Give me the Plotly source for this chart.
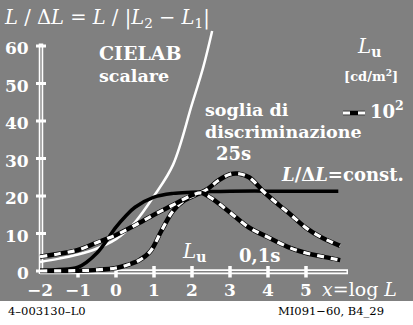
import plotly.graph_objects as go

W, H = 413, 325

# ---------------- data ----------------
cielab_x = [-2, -1.5, -1, -0.5, 0, 0.25, 0.5, 1, 1.5, 2, 2.3, 2.53]
cielab_y = [2.4, 3.3, 4.4, 6.0, 8.5, 10.5, 13.0, 20.0, 28.3, 44.5, 54.5, 64.0]

const_x = [-2, -1.5, -1, -0.5, 0, 0.25, 0.5, 1, 1.5, 2, 2.5, 3, 4, 5, 5.85]
const_y = [0.2, 0.4, 1.0, 4.8, 11.7, 14.6, 17.0, 19.7, 20.7, 21.0, 21.2, 21.3, 21.3, 21.3, 21.3]

s25_x = [-2, -1, -0.5, 0, 0.3, 0.6, 0.9, 1.2, 1.5, 1.8, 2.1, 2.4, 2.7, 3.0, 3.2, 3.5, 3.9, 4.3, 4.6, 5.0, 5.4, 5.9]
s25_y = [0.0, 0.1, 0.3, 0.8, 1.6, 2.8, 5.2, 10.8, 16.0, 18.8, 20.3, 21.8, 24.2, 25.8, 26.0, 25.0, 21.0, 17.5, 15.0, 11.5, 9.0, 6.7]

s01_x = [-2, -1.5, -1, -0.5, 0, 0.5, 1, 1.5, 2, 2.25, 2.5, 3, 3.5, 4, 4.6, 5, 5.5, 5.9]
s01_y = [3.8, 4.6, 5.6, 7.6, 9.6, 12.2, 15.0, 17.6, 20.2, 20.8, 19.5, 15.6, 11.6, 9.0, 6.1, 4.8, 3.7, 2.9]

x_ticks = [-2, -1, 0, 1, 2, 3, 4, 5]
x_tick_labels = ["−2", "−1", "0", "1", "2", "3", "4", "5"]
y_ticks = [0, 10, 20, 30, 40, 50, 60]
y_tick_labels = ["0", "10", "20", "30", "40", "50", "60"]

# ---------------- pixel <-> data geometry ----------------
X0PX, XSCALE = 40.0, 38.0      # px of x=-2, px per unit
Y0PX, YSCALE = 271.0, 3.75     # px of y=0, px per unit
PLOT_BOTTOM_PX = 301.0


def dx(px):
    return (px - X0PX) / XSCALE - 2


def dy(py):
    return (Y0PX - py) / YSCALE


def pp(px, py):
    return px / W, 1 - py / H


GRAY = "#808080"
FONT = "DejaVu Serif"

fig = go.Figure()

fig.add_trace(go.Scatter(x=cielab_x, y=cielab_y, mode="lines",
                         line=dict(color="white", width=2.5, shape="spline"),
                         hoverinfo="skip"))
fig.add_trace(go.Scatter(x=const_x, y=const_y, mode="lines",
                         line=dict(color="black", width=3.5, shape="spline"),
                         hoverinfo="skip"))
for xs, ys in [(s25_x, s25_y), (s01_x, s01_y)]:
    fig.add_trace(go.Scatter(x=xs, y=ys, mode="lines",
                             line=dict(color="black", width=4.5, shape="spline"),
                             hoverinfo="skip"))
    fig.add_trace(go.Scatter(x=xs, y=ys, mode="lines",
                             line=dict(color="white", width=3.2, shape="spline", dash="7px,7px"),
                             hoverinfo="skip"))

shapes = []
xa_y = dy(271.7)
shapes.append(dict(type="line", xref="x", yref="y", x0=-2, x1=dx(348), y0=xa_y, y1=xa_y,
                   line=dict(color="white", width=5), layer="below"))
shapes.append(dict(type="line", xref="x", yref="y", x0=dx(43), x1=dx(346.5), y0=xa_y, y1=xa_y,
                   line=dict(color=GRAY, width=1.4), layer="below"))
ya_x = dx(41)
shapes.append(dict(type="line", xref="x", yref="y", x0=ya_x, x1=ya_x, y0=dy(274), y1=dy(43.5),
                   line=dict(color="white", width=4.5), layer="below"))
shapes.append(dict(type="line", xref="x", yref="y", x0=ya_x, x1=ya_x, y0=dy(272), y1=dy(45),
                   line=dict(color=GRAY, width=1.3), layer="below"))
for t in x_ticks[1:]:
    shapes.append(dict(type="line", xref="x", yref="y", x0=t, x1=t, y0=dy(266), y1=dy(277.5),
                       line=dict(color="white", width=3.5), layer="below"))
for t in y_ticks:
    shapes.append(dict(type="line", xref="x", yref="y", x0=dx(36), x1=dx(46), y0=t, y1=t,
                       line=dict(color="white", width=3), layer="below"))

ly = 1 - 113 / H
shapes.append(dict(type="line", xref="paper", yref="paper", x0=343 / W, x1=365 / W, y0=ly, y1=ly,
                   line=dict(color="black", width=4.5)))
for a, b in [(343, 350), (358, 365)]:
    shapes.append(dict(type="line", xref="paper", yref="paper", x0=a / W, x1=b / W, y0=ly, y1=ly,
                       line=dict(color="white", width=3.2)))

annotations = []


def txt(text, px, py, size, xanchor="left", color="white"):
    x, y = pp(px, py)
    annotations.append(dict(text=text, x=x, y=y, xref="paper", yref="paper",
                            xanchor=xanchor, yanchor="middle", showarrow=False,
                            font=dict(family=FONT, size=size, color=color)))


for t, lab in zip(x_ticks, x_tick_labels):
    annotations.append(dict(text="<b>%s</b>" % lab, x=t, y=dy(290), xref="x", yref="y",
                            xanchor="center", yanchor="middle", showarrow=False,
                            font=dict(family=FONT, size=17, color="white")))
for t, lab in zip(y_ticks, y_tick_labels):
    annotations.append(dict(text="<b>%s</b>" % lab, x=dx(31), y=t + dy(273), xref="x", yref="y",
                            xanchor="right", yanchor="middle", showarrow=False,
                            font=dict(family=FONT, size=17, color="white")))

txt("<i>L</i> / Δ<i>L</i> = <i>L</i> / |<i>L</i><sub>2</sub> − <i>L</i><sub>1</sub>|", 2, 19, 19.5)
txt("<b>CIELAB</b>", 97, 53, 19)
txt("<b>scalare</b>", 97, 76, 17.5)
txt("<b>soglia di</b>", 203, 110, 17.5)
txt("<b>discriminazione</b>", 203, 132, 17.5)
txt("<b>25s</b>", 233, 153, 18, xanchor="center")
txt("<b><i>L</i>/Δ<i>L</i>=const.</b>", 406, 174, 18, xanchor="right")
txt("<i>L</i><sub><b>u</b></sub>", 355, 47, 20)
txt("<b>[cd/m<sup>2</sup>]</b>", 342, 75, 13)
txt("<b>10<sup>2</sup></b>", 368, 110, 18)
txt("<i>L</i><sub><b>u</b></sub>", 180, 252, 20)
txt("<b>0,1s</b>", 237, 255, 18)
txt("<i>x</i>=log <i>L</i>", 320, 289, 19)
txt("4–003130–L0", 6, 311, 11.5, color="black")
txt("MI091−60, B4_29", 276, 311, 11.5, color="black")

fig.update_layout(
    width=W, height=H,
    margin=dict(l=0, r=0, t=0, b=0),
    paper_bgcolor="white",
    plot_bgcolor=GRAY,
    showlegend=False,
    font=dict(family=FONT),
    xaxis=dict(range=[dx(0), dx(W)], visible=False, fixedrange=True),
    yaxis=dict(range=[dy(PLOT_BOTTOM_PX), dy(0)], domain=[1 - PLOT_BOTTOM_PX / H, 1],
               visible=False, fixedrange=True),
    shapes=shapes,
    annotations=annotations,
)

fig.write_html("out.html", config={"displayModeBar": False},
               post_script="document.body.style.margin='0';document.body.style.overflow='hidden';")
